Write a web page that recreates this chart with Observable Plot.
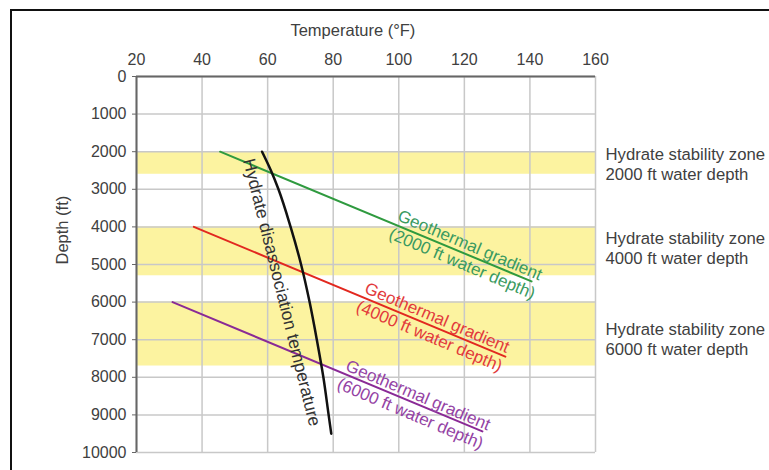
<!DOCTYPE html>
<html>
<head>
<meta charset="utf-8">
<script src="https://cdn.jsdelivr.net/npm/d3@7"></script>
<script src="https://cdn.jsdelivr.net/npm/@observablehq/plot@0.6"></script>
<style>
  html, body { margin: 0; padding: 0; background: #fff; }
  #wrap { position: relative; width: 769px; height: 470px; overflow: hidden; }
  #border { position: absolute; left: 10px; top: 9px; width: 800px; height: 500px; border: 2px solid #111; box-sizing: border-box; }
  #chart { position: absolute; left: 0; top: 0; }
</style>
</head>
<body>
<div id="wrap"><div id="border"></div><div id="chart"></div></div>
<script>
// ---- data ----
const xTicks = [20, 40, 60, 80, 100, 120, 140, 160];
const yTicks = [0, 1000, 2000, 3000, 4000, 5000, 6000, 7000, 8000, 9000, 10000];

// hydrate stability zones (depth ranges, ft)
const zoneStart = [2000, 4000, 6000];
const zoneEnd = [2600, 5300, 7700];
const zoneLabels = ["Hydrate stability zone\n2000 ft water depth", "Hydrate stability zone\n4000 ft water depth", "Hydrate stability zone\n6000 ft water depth"];
const zoneLabelDepth = [2310, 4560, 6970];

// geothermal gradients (temperature °F at start/end depth)
const geoNames = ["2000 ft water depth", "4000 ft water depth", "6000 ft water depth"];
const geoTemp = [[45.5, 140.5], [37.5, 132.5], [31, 125.5]];
const geoDepth = [[2000, 5450], [4000, 7450], [6000, 9440]];
const geoLabelTemp = [120.6, 110.6, 104.8];
const geoLabelDepth = [4710, 6640, 8700];

// hydrate dissociation temperature curve
const hydDepth = [2000, 2500, 3000, 4000, 5000, 6000, 7000, 8000, 9000, 9500];
const hydTemp = [58.3, 61.0, 63.3, 67.0, 70.2, 72.8, 75.0, 77.0, 78.6, 79.4];
const hydLabel = "Hydrate disassociation temperature";
const hydLabelTemp = 64.3;
const hydLabelDepth = 5740;

// ---- styles ----
const lineColors = ["#2f9a3f", "#e2281f", "#8a2a96"];
const textColors = ["#3a9a60", "#e23a3c", "#9443a4"];
const font = "'Liberation Sans', Arial, sans-serif";

const zones = zoneStart.map((s, i) => ({start: s, end: zoneEnd[i], label: zoneLabels[i], ld: zoneLabelDepth[i]}));
const hyd = hydDepth.map((d, i) => ({d, t: hydTemp[i]}));

const geoMarks = geoNames.flatMap((name, i) => {
  const pts = geoTemp[i].map((t, j) => ({t, d: geoDepth[i][j]}));
  return [
    Plot.line(pts, {x: "t", y: "d", stroke: lineColors[i], strokeWidth: 2}),
    Plot.text([{t: geoLabelTemp[i], d: geoLabelDepth[i], txt: "Geothermal gradient\n(" + name + ")"}], {
      x: "t", y: "d", text: "txt", rotate: 23, fill: textColors[i], fontSize: 17,
      textAnchor: "middle", lineAnchor: "middle", lineHeight: 1.18
    })
  ];
});

const chart = Plot.plot({
  width: 769,
  height: 470,
  marginLeft: 136,
  marginRight: 174,
  marginTop: 76,
  marginBottom: 18,
  style: {fontFamily: font, fontSize: "16px", color: "#404040", background: "transparent", overflow: "visible"},
  x: {domain: [20, 160]},
  y: {domain: [0, 10000], reverse: true},
  marks: [
    Plot.rect(zones, {y1: "start", y2: "end", fill: "#fcf3a0"}),
    Plot.gridX(xTicks, {stroke: "#c8c8c8", strokeOpacity: 1, strokeWidth: 1.5}),
    Plot.gridY(yTicks, {stroke: "#c8c8c8", strokeOpacity: 1, strokeWidth: 1.5}),
    Plot.ruleX([20], {stroke: "#666", strokeWidth: 2}),
    Plot.ruleY([0], {stroke: "#666", strokeWidth: 2}),
    Plot.axisX(xTicks, {anchor: "top", tickSize: 0, tickPadding: 12, label: null, fontSize: 16, fill: "#404040"}),
    Plot.axisY(yTicks, {anchor: "left", tickSize: 4, tickPadding: 6, label: null, fontSize: 16, fill: "#404040", stroke: "#666", tickFormat: d => String(d)}),
    Plot.text(["Temperature (°F)"], {frameAnchor: "top", x: () => 86, text: d => d, dy: -52, fontSize: 16.5, fill: "#404040"}),
    Plot.text(["Depth (ft)"], {frameAnchor: "left", text: d => d, dx: -74, rotate: -90, fontSize: 16.5, fill: "#404040"}),
    ...geoMarks,
    Plot.line(hyd, {x: "t", y: "d", stroke: "#111", strokeWidth: 2.5, curve: "monotone-y"}),
    Plot.text([hydLabel], {x: () => hydLabelTemp, y: () => hydLabelDepth, text: d => d, rotate: 76, fontSize: 17.5, fill: "#333", textAnchor: "middle", lineAnchor: "middle"}),
    Plot.text(zones, {x: () => 160, y: "ld", text: "label", dx: 10, textAnchor: "start", lineAnchor: "middle", lineHeight: 1.2, fontSize: 16.7, fill: "#404040", clip: false})
  ]
});
document.getElementById("chart").appendChild(chart);
</script>
</body>
</html>
